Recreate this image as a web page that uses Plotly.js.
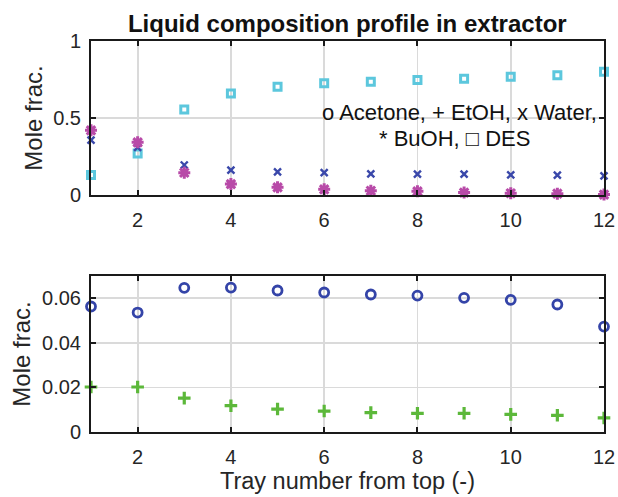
<!DOCTYPE html>
<html>
<head>
<meta charset="utf-8">
<script src="https://cdn.plot.ly/plotly-3.0.1.min.js"></script>
<style>html,body{margin:0;padding:0;background:#fff}#chart{width:618px;height:497px}</style>
</head>
<body>
<div id="chart"></div>
<script>
const trays = [1,2,3,4,5,6,7,8,9,10,11,12];
const desFrac = [0.13,0.27,0.556,0.66,0.703,0.725,0.736,0.747,0.755,0.768,0.777,0.80];
const waterFrac = [0.357,0.31,0.195,0.162,0.151,0.145,0.138,0.136,0.136,0.131,0.13,0.124];
const buohFrac = [0.42,0.342,0.145,0.071,0.05,0.037,0.028,0.024,0.016,0.012,0.009,0.003];
const acetoneFrac = [0.0563,0.0536,0.0647,0.0648,0.0635,0.0626,0.0617,0.0612,0.0602,0.0593,0.0572,0.0473];
const etohFrac = [0.0202,0.0202,0.0152,0.0118,0.0103,0.0094,0.0087,0.0084,0.0084,0.0079,0.0075,0.0063];
const xTicks = [2,4,6,8,10,12];
const yTicksTop = [0,0.5,1];
const yTicksBottom = [0,0.02,0.04,0.06];

const font = "Liberation Sans, Arial, Helvetica, sans-serif";
const traces = [
  {x: trays, y: desFrac, xaxis:'x', yaxis:'y', mode:'markers', cliponaxis:false,
   marker:{symbol:'square-open', size:7, color:'#5cc7dd', line:{width:3, color:'#5cc7dd'}}},
  {x: trays, y: waterFrac, xaxis:'x', yaxis:'y', mode:'markers', cliponaxis:false,
   marker:{symbol:'x-thin-open', size:7, color:'#3a48aa', line:{width:2.4, color:'#3a48aa'}}},
  {x: trays, y: buohFrac, xaxis:'x', yaxis:'y', mode:'markers', cliponaxis:false,
   marker:{symbol:'asterisk-open', size:10, color:'#b84aa8', line:{width:3, color:'#b84aa8'}}},
  {x: trays, y: acetoneFrac, xaxis:'x2', yaxis:'y2', mode:'markers', cliponaxis:false,
   marker:{symbol:'circle-open', size:9, color:'#3444a8', line:{width:2.8, color:'#3444a8'}}},
  {x: trays, y: etohFrac, xaxis:'x2', yaxis:'y2', mode:'markers', cliponaxis:false,
   marker:{symbol:'cross-thin-open', size:9, color:'#5cb83a', line:{width:3.2, color:'#5cb83a'}}}
];

const axBase = {
  showline:true, mirror:'ticks', linecolor:'#1a1a1a', linewidth:2,
  ticks:'inside', ticklen:5, tickwidth:2, tickcolor:'#1a1a1a',
  showgrid:true, gridcolor:'#dadada', gridwidth:1.8, zeroline:false,
  tickfont:{family:font, size:20, color:'#262626'}
};

const layout = {
  width:618, height:497,
  margin:{l:91, r:14, t:41, b:65},
  paper_bgcolor:'#fff', plot_bgcolor:'#fff',
  showlegend:false,
  title:{text:'<b>Liquid composition profile in extractor</b>', x:0.562, xanchor:'center', y:0.953, yanchor:'middle',
         font:{family:font, size:24, color:'#111'}},
  xaxis: Object.assign({}, axBase, {domain:[0,1], anchor:'y', range:[1,12], tickvals:xTicks, ticktext:xTicks.map(String), ticklabelstandoff:6}),
  yaxis: Object.assign({}, axBase, {domain:[0.606,1], anchor:'x', range:[0,1], tickvals:yTicksTop, ticktext:['0','0.5','1'], ticklabelstandoff:4,
         title:{text:'Mole frac.', font:{family:font, size:24, color:'#262626'}, standoff:4}}),
  xaxis2: Object.assign({}, axBase, {domain:[0,1], anchor:'y2', range:[1,12], tickvals:xTicks, ticktext:xTicks.map(String), ticklabelstandoff:6,
         title:{text:'Tray number from top (-)', font:{family:font, size:23.5, color:'#262626'}, standoff:2}}),
  yaxis2: Object.assign({}, axBase, {domain:[0,0.399], anchor:'x2', range:[0,0.07], tickvals:yTicksBottom, ticktext:['0','0.02','0.04','0.06'], ticklabelstandoff:4,
         title:{text:'Mole frac.', font:{family:font, size:24, color:'#262626'}, standoff:5}}),
  annotations:[
    {xref:'x', yref:'y', x:8.9, y:0.539, text:'o Acetone, + EtOH, x Water,', showarrow:false, xanchor:'center', yanchor:'middle',
     font:{family:font, size:22, color:'#111'}},
    {xref:'x', yref:'y', x:8.8, y:0.37, text:'* BuOH, □ DES', showarrow:false, xanchor:'center', yanchor:'middle',
     font:{family:font, size:22, color:'#111'}}
  ]
};

Plotly.newPlot('chart', traces, layout, {staticPlot:true, displayModeBar:false});
</script>
</body>
</html>
